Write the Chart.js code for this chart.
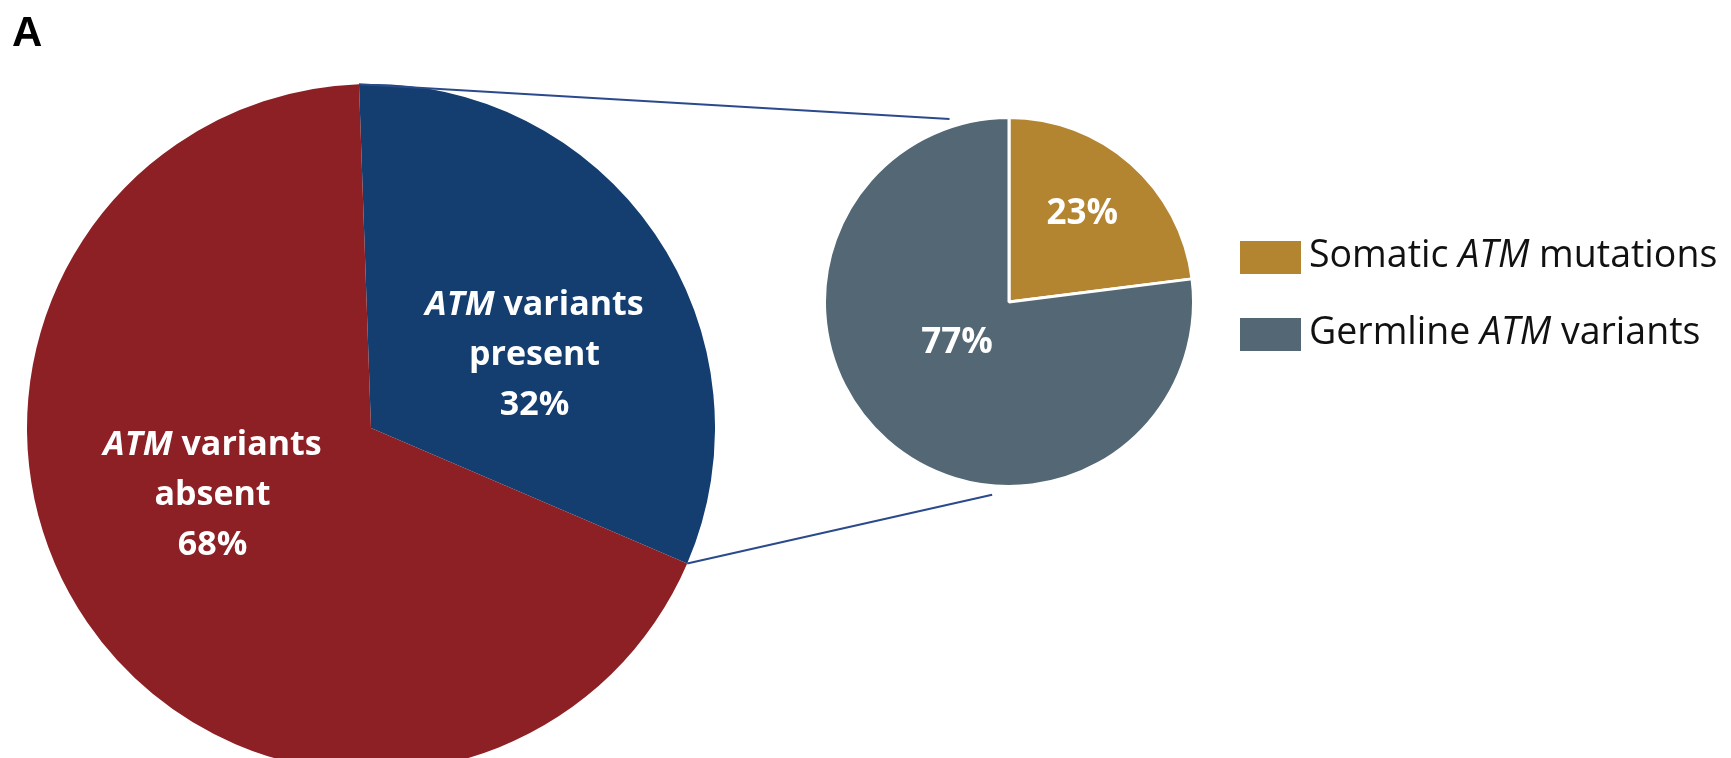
<!DOCTYPE html>
<html>
<head>
<meta charset="utf-8">
<script src="https://cdn.jsdelivr.net/npm/chart.js@4.4.1/dist/chart.umd.min.js"></script>
<style>
  html, body { margin: 0; padding: 0; background: #fff; overflow: hidden; }
  #page { position: relative; width: 1731px; height: 758px; overflow: hidden; background: #fff; }
  #page > canvas, .pie { position: absolute; }
  #mainBox { left: 27px; top: 84px; }
  #subBox  { left: 823px; top: 116px; }
  #overlay { left: 0; top: 0; pointer-events: none; }
</style>
</head>
<body>
<div id="page">
  <div class="pie" id="mainBox"><canvas id="mainPie" width="688" height="688"></canvas></div>
  <div class="pie" id="subBox"><canvas id="subPie" width="372" height="372"></canvas></div>
  <canvas id="overlay" width="1731" height="758"></canvas>
</div>
<script>
'use strict';

const GENE = 'ATM';

// Whole cohort: variants present vs absent
const mainLabels = [['variants', 'present'], ['variants', 'absent']];
const mainValues = [32, 68];
const mainColors = ['#143d70', '#8c2024'];

// Breakdown of the "present" slice
const subLabels = [['Somatic', 'mutations'], ['Germline', 'variants']];
const subValues = [23, 77];
const subColors = ['#b38531', '#536874'];

const FONT = '"Open Sans", "Noto Sans", sans-serif';
const DEG = Math.PI / 180;

// draw a line made of [text, italic] runs, centred or left-aligned at x
function drawRuns(ctx, runs, x, y, weight, size, align) {
  const fontOf = it => `${it ? 'italic ' : ''}${weight} ${size}px ${FONT}`;
  let total = 0;
  runs.forEach(([t, it]) => { ctx.font = fontOf(it); total += ctx.measureText(t).width; });
  let cx = align === 'center' ? x - total / 2 : x;
  ctx.textAlign = 'left';
  ctx.textBaseline = 'middle';
  runs.forEach(([t, it]) => {
    ctx.font = fontOf(it);
    ctx.fillText(t, cx, y);
    cx += ctx.measureText(t).width;
  });
}

const sliceLabels = {
  id: 'sliceLabels',
  afterDatasetsDraw(chart, args, opts) {
    const ctx = chart.ctx;
    const values = chart.data.datasets[0].data;
    ctx.save();
    ctx.fillStyle = '#fff';
    chart.getDatasetMeta(0).data.forEach((arc, i) => {
      const { x, y, startAngle, endAngle, outerRadius } =
        arc.getProps(['x', 'y', 'startAngle', 'endAngle', 'outerRadius'], true);
      const a = (startAngle + endAngle) / 2 + opts.turn[i] * DEG;
      const r = outerRadius * opts.radius[i];
      const px = x + r * Math.cos(a), py = y + r * Math.sin(a);
      const lines = opts.lines(i, values[i]);
      const top = py - (lines.length - 1) * opts.lineHeight / 2;
      lines.forEach((runs, k) => drawRuns(ctx, runs, px, top + k * opts.lineHeight, 'bold', opts.size, 'center'));
    });
    ctx.restore();
  }
};

const baseOptions = {
  responsive: false,
  devicePixelRatio: 1,
  animation: false,
  events: [],
  plugins: { legend: { display: false }, tooltip: { enabled: false } },
};

const mainChart = new Chart(document.getElementById('mainPie'), {
  type: 'pie',
  data: {
    labels: mainLabels.map(l => `${GENE} ${l.join(' ')}`),
    datasets: [{ data: mainValues, backgroundColor: mainColors, borderWidth: 0, hoverBorderWidth: 0, hoverOffset: 0 }],
  },
  options: {
    ...baseOptions,
    rotation: -2,
    plugins: {
      ...baseOptions.plugins,
      sliceLabels: {
        size: 34, lineHeight: 50,
        radius: [0.52, 0.50], turn: [10.5, 11.5],
        lines: (i, v) => [[[GENE, true], [' ' + mainLabels[i][0], false]], [[mainLabels[i][1], false]], [[v + '%', false]]],
      },
    },
  },
  plugins: [sliceLabels],
});

const subChart = new Chart(document.getElementById('subPie'), {
  type: 'pie',
  data: {
    labels: subLabels.map(l => `${l[0]} ${GENE} ${l[1]}`),
    datasets: [{ data: subValues, backgroundColor: subColors, borderColor: '#fff', borderWidth: 3, hoverBorderWidth: 3, hoverOffset: 0 }],
  },
  options: {
    ...baseOptions,
    plugins: {
      ...baseOptions.plugins,
      sliceLabels: {
        size: 35, lineHeight: 40,
        radius: [0.62, 0.36], turn: [-1.5, 10],
        lines: (i, v) => [[[v + '%', false]]],
      },
    },
  },
  plugins: [sliceLabels],
});

// panel letter, connector lines and legend go on a page-wide layer
function drawOverlay() {
  const ctx = document.getElementById('overlay').getContext('2d');
  const boxOf = id => { const el = document.getElementById(id); return [el.offsetLeft, el.offsetTop]; };
  const [mx, my] = boxOf('mainBox');
  const [sx, sy] = boxOf('subBox');

  ctx.fillStyle = '#000';
  ctx.font = 'bold 42px "Liberation Sans", Arial, sans-serif';
  ctx.textBaseline = 'alphabetic';
  ctx.fillText('A', 12, 46);

  // zoom lines from the "present" slice edges to the detail pie
  const src = mainChart.getDatasetMeta(0).data[0];
  const dst = subChart.getDatasetMeta(0).data[0];
  const onCircle = (el, ox, oy, ang, extra) => [ox + el.x + (el.outerRadius + extra) * Math.cos(ang), oy + el.y + (el.outerRadius + extra) * Math.sin(ang)];
  const links = [
    [onCircle(src, mx, my, src.startAngle, 0), onCircle(dst, sx, sy, (-90 - 18) * DEG, 8)],
    [onCircle(src, mx, my, src.endAngle, 0), onCircle(dst, sx, sy, (-90 + 185) * DEG, 9)],
  ];
  ctx.strokeStyle = '#2a4a8c';
  ctx.lineWidth = 2;
  links.forEach(([a, b]) => { ctx.beginPath(); ctx.moveTo(a[0], a[1]); ctx.lineTo(b[0], b[1]); ctx.stroke(); });

  // legend for the detail pie
  subLabels.forEach((l, i) => {
    const top = 241 + i * 77;
    ctx.fillStyle = subColors[i];
    ctx.fillRect(1240, top, 61, 33);
    ctx.fillStyle = '#111';
    drawRuns(ctx, [[l[0] + ' ', false], [GENE, true], [' ' + l[1], false]], 1309, top + 15, 'normal', 37.5, 'left');
  });
}
drawOverlay();
</script>
</body>
</html>
